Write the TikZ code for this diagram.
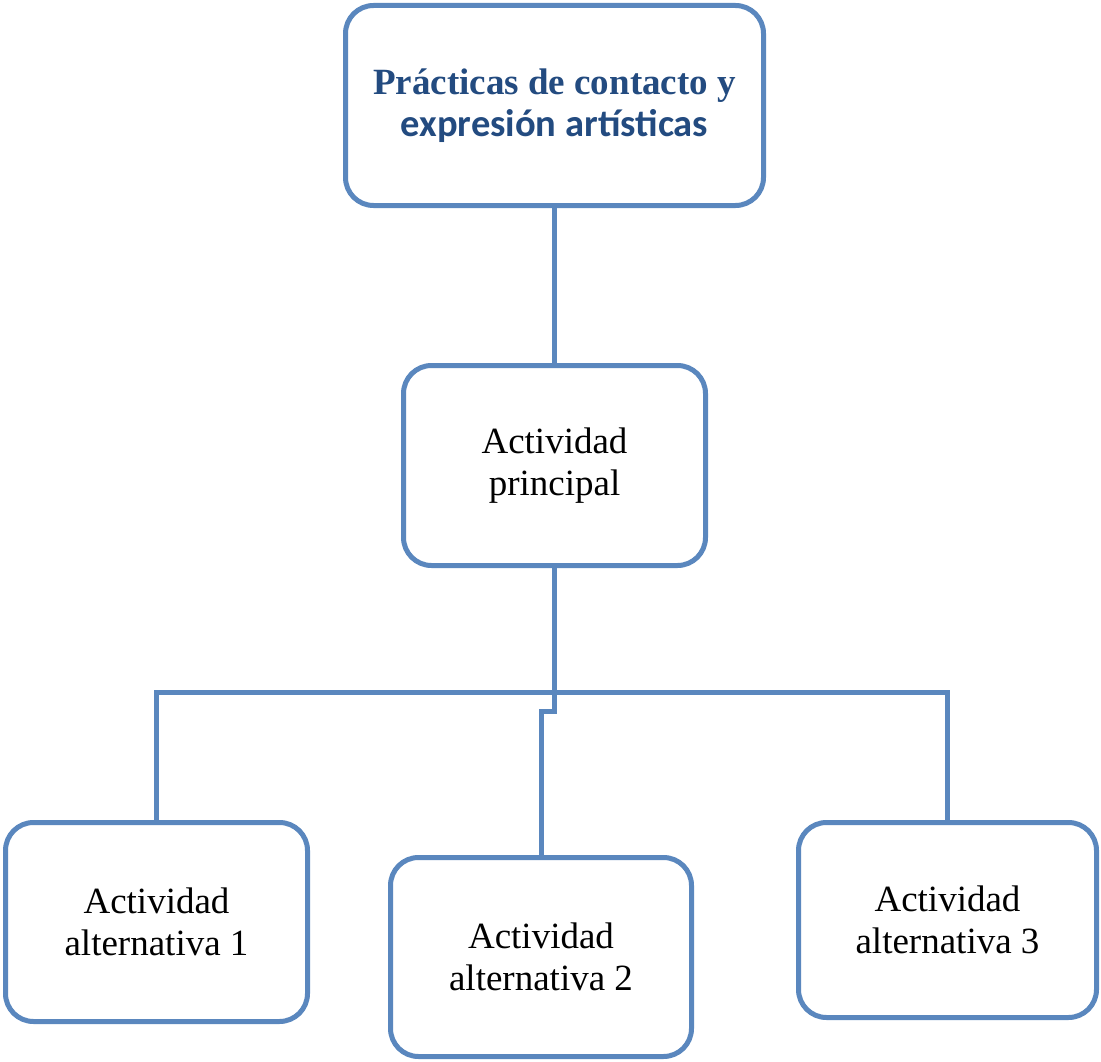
\documentclass[tikz,border=0pt]{standalone}
\usepackage{fontspec}
\setmainfont{Liberation Serif}
\newfontfamily\calib{Carlito}
\definecolor{boxblue}{HTML}{5A87BE}
\definecolor{textblue}{HTML}{234B80}
\begin{document}
\begin{tikzpicture}[x=1pt,y=-1pt,
  boxstyle/.style={draw=boxblue,line width=5pt,rounded corners=28pt,fill=white,
    inner sep=0pt,align=center,font=\fontsize{37}{42.5}\selectfont},
  conn/.style={draw=boxblue,line width=5pt}]
\useasboundingbox (0,0) rectangle (1101,1062);
\node[boxstyle,minimum width=418pt,minimum height=200pt,text=textblue] (top) at (554.5,105.5)
  {\textbf{Prácticas de contacto y}\\{\calib\bfseries\fontsize{38.5}{42.5}\selectfont expresión artísticas}};
\node[boxstyle,minimum width=302pt,minimum height=200pt] (mid) at (554.5,465.5) {Actividad\\principal};
\node[boxstyle,minimum width=302pt,minimum height=199pt] (a1) at (156.5,922) {Actividad\\alternativa 1};
\node[boxstyle,minimum width=301pt,minimum height=199pt] (a2) at (541,957) {Actividad\\alternativa 2};
\node[boxstyle,minimum width=298pt,minimum height=195pt] (a3) at (947.5,920) {Actividad\\alternativa 3};
\coordinate (j) at (554.5,692);
\coordinate (k) at (554.5,711);
\draw[conn] (top.south) -- (mid.north);
\draw[conn] (mid.south) -- (j);
\draw[conn] (a1.north) |- (j) -| (a3.north);
\draw[conn] (j) -- (k) -| (a2.north);
\end{tikzpicture}
\end{document}
